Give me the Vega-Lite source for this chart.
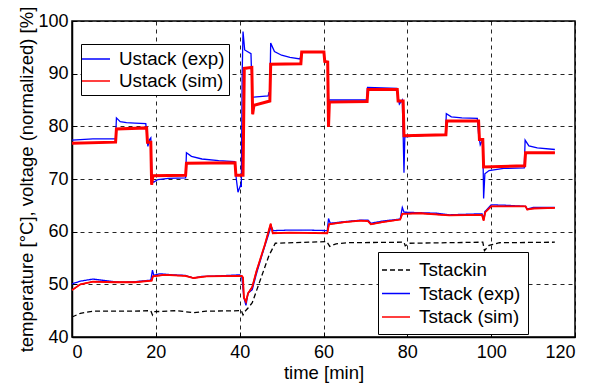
{
  "$schema": "https://vega.github.io/schema/vega-lite/v6.json",
  "width": 503,
  "height": 316,
  "autosize": "none",
  "padding": {"left": 72, "top": 21, "right": 35, "bottom": 46},
  "background": "white",
  "config": {
    "font": "Liberation Sans",
    "view": {"stroke": "black", "strokeWidth": 1.5},
    "axis": {
      "domainColor": "black",
      "domainWidth": 1.5,
      "gridColor": "black",
      "gridDash": [4, 4],
      "gridOpacity": 0.85,
      "gridWidth": 1,
      "tickColor": "black",
      "tickSize": -5,
      "labelColor": "black",
      "labelFont": "Liberation Sans",
      "labelFontSize": 18,
      "titleFont": "Liberation Sans",
      "titleFontSize": 18.5,
      "titleFontWeight": "normal",
      "titleColor": "black"
    },
    "legend": {
      "labelFont": "Liberation Sans",
      "labelFontSize": 18.8,
      "labelColor": "black",
      "strokeColor": "black",
      "fillColor": "white",
      "padding": 5,
      "rowPadding": 2,
      "symbolType": "M-1.4,0H1.4",
      "symbolSize": 400,
      "symbolStrokeWidth": 1.5,
      "labelOffset": 12
    }
  },
  "datasets": {
    "u": [
      {"series": "Ustack (exp)", "t": 0, "v": 77.4},
      {"series": "Ustack (exp)", "t": 5, "v": 77.6},
      {"series": "Ustack (exp)", "t": 10.4, "v": 77.6},
      {"series": "Ustack (exp)", "t": 10.6, "v": 81.6},
      {"series": "Ustack (exp)", "t": 11.5, "v": 80.9},
      {"series": "Ustack (exp)", "t": 13, "v": 80.7},
      {"series": "Ustack (exp)", "t": 15, "v": 80.6},
      {"series": "Ustack (exp)", "t": 17.6, "v": 80.5},
      {"series": "Ustack (exp)", "t": 17.8, "v": 79},
      {"series": "Ustack (exp)", "t": 18.1, "v": 76.2},
      {"series": "Ustack (exp)", "t": 18.5, "v": 77.5},
      {"series": "Ustack (exp)", "t": 18.8, "v": 77.8},
      {"series": "Ustack (exp)", "t": 19.1, "v": 69.6},
      {"series": "Ustack (exp)", "t": 19.5, "v": 69.4},
      {"series": "Ustack (exp)", "t": 20.5, "v": 69.9},
      {"series": "Ustack (exp)", "t": 23, "v": 70.1},
      {"series": "Ustack (exp)", "t": 27.1, "v": 70.2},
      {"series": "Ustack (exp)", "t": 27.3, "v": 75.0},
      {"series": "Ustack (exp)", "t": 28.5, "v": 74.3},
      {"series": "Ustack (exp)", "t": 31, "v": 73.8},
      {"series": "Ustack (exp)", "t": 35, "v": 73.5},
      {"series": "Ustack (exp)", "t": 38.8, "v": 73.3},
      {"series": "Ustack (exp)", "t": 39.2, "v": 70},
      {"series": "Ustack (exp)", "t": 39.6, "v": 67.5},
      {"series": "Ustack (exp)", "t": 40.2, "v": 68.8},
      {"series": "Ustack (exp)", "t": 40.4, "v": 68.5},
      {"series": "Ustack (exp)", "t": 40.6, "v": 90},
      {"series": "Ustack (exp)", "t": 40.8, "v": 98},
      {"series": "Ustack (exp)", "t": 41.2, "v": 94.5},
      {"series": "Ustack (exp)", "t": 42.7, "v": 93.8},
      {"series": "Ustack (exp)", "t": 43.0, "v": 85.5},
      {"series": "Ustack (exp)", "t": 44, "v": 85.6},
      {"series": "Ustack (exp)", "t": 46.8, "v": 85.8},
      {"series": "Ustack (exp)", "t": 47.0, "v": 86.5},
      {"series": "Ustack (exp)", "t": 47.2, "v": 85.9},
      {"series": "Ustack (exp)", "t": 47.4, "v": 95.8},
      {"series": "Ustack (exp)", "t": 48.3, "v": 94.2},
      {"series": "Ustack (exp)", "t": 50, "v": 93.5},
      {"series": "Ustack (exp)", "t": 52, "v": 93.1},
      {"series": "Ustack (exp)", "t": 54.4, "v": 92.8},
      {"series": "Ustack (exp)", "t": 54.8, "v": 94.2},
      {"series": "Ustack (exp)", "t": 60.0, "v": 94.1},
      {"series": "Ustack (exp)", "t": 60.3, "v": 92.3},
      {"series": "Ustack (exp)", "t": 61.0, "v": 92.2},
      {"series": "Ustack (exp)", "t": 61.2, "v": 85.0},
      {"series": "Ustack (exp)", "t": 65, "v": 85.0},
      {"series": "Ustack (exp)", "t": 70.3, "v": 85.0},
      {"series": "Ustack (exp)", "t": 70.5, "v": 87.4},
      {"series": "Ustack (exp)", "t": 77.5, "v": 87.2},
      {"series": "Ustack (exp)", "t": 77.8, "v": 85.5},
      {"series": "Ustack (exp)", "t": 78.1, "v": 84.2},
      {"series": "Ustack (exp)", "t": 78.8, "v": 85},
      {"series": "Ustack (exp)", "t": 79.0, "v": 78.5},
      {"series": "Ustack (exp)", "t": 79.2, "v": 71.2},
      {"series": "Ustack (exp)", "t": 79.4, "v": 78},
      {"series": "Ustack (exp)", "t": 84, "v": 78.3},
      {"series": "Ustack (exp)", "t": 89.1, "v": 78.4},
      {"series": "Ustack (exp)", "t": 89.3, "v": 82.4},
      {"series": "Ustack (exp)", "t": 90.5, "v": 81.8},
      {"series": "Ustack (exp)", "t": 93, "v": 81.6},
      {"series": "Ustack (exp)", "t": 96.7, "v": 81.5},
      {"series": "Ustack (exp)", "t": 97, "v": 78.5},
      {"series": "Ustack (exp)", "t": 97.4, "v": 76.5},
      {"series": "Ustack (exp)", "t": 98, "v": 77.5},
      {"series": "Ustack (exp)", "t": 98.2, "v": 66.3},
      {"series": "Ustack (exp)", "t": 98.5, "v": 71.0},
      {"series": "Ustack (exp)", "t": 99.5, "v": 71.6},
      {"series": "Ustack (exp)", "t": 103, "v": 72.0},
      {"series": "Ustack (exp)", "t": 107.9, "v": 72.1},
      {"series": "Ustack (exp)", "t": 108.1, "v": 77.4},
      {"series": "Ustack (exp)", "t": 109, "v": 76.3},
      {"series": "Ustack (exp)", "t": 111, "v": 75.9},
      {"series": "Ustack (exp)", "t": 115.2, "v": 75.6},
      {"series": "Ustack (sim)", "t": 0, "v": 76.8},
      {"series": "Ustack (sim)", "t": 10.4, "v": 77.0},
      {"series": "Ustack (sim)", "t": 10.6, "v": 79.5},
      {"series": "Ustack (sim)", "t": 17.8, "v": 79.7},
      {"series": "Ustack (sim)", "t": 18.0, "v": 77},
      {"series": "Ustack (sim)", "t": 18.8, "v": 77},
      {"series": "Ustack (sim)", "t": 19.0, "v": 68.9},
      {"series": "Ustack (sim)", "t": 19.3, "v": 70.6},
      {"series": "Ustack (sim)", "t": 27.1, "v": 70.7},
      {"series": "Ustack (sim)", "t": 27.3, "v": 73.0},
      {"series": "Ustack (sim)", "t": 38.9, "v": 73.1},
      {"series": "Ustack (sim)", "t": 39.1, "v": 70.7},
      {"series": "Ustack (sim)", "t": 40.8, "v": 70.7},
      {"series": "Ustack (sim)", "t": 41.1, "v": 91.0},
      {"series": "Ustack (sim)", "t": 42.9, "v": 91.2},
      {"series": "Ustack (sim)", "t": 43.1, "v": 82.3},
      {"series": "Ustack (sim)", "t": 43.4, "v": 84.0},
      {"series": "Ustack (sim)", "t": 47.2, "v": 84.8},
      {"series": "Ustack (sim)", "t": 47.4, "v": 91.8},
      {"series": "Ustack (sim)", "t": 54.6, "v": 91.9},
      {"series": "Ustack (sim)", "t": 54.8, "v": 94.1},
      {"series": "Ustack (sim)", "t": 60.1, "v": 94.1},
      {"series": "Ustack (sim)", "t": 60.3, "v": 92.3},
      {"series": "Ustack (sim)", "t": 61.0, "v": 92.2},
      {"series": "Ustack (sim)", "t": 61.2, "v": 79.9},
      {"series": "Ustack (sim)", "t": 61.4, "v": 84.6},
      {"series": "Ustack (sim)", "t": 70.4, "v": 84.7},
      {"series": "Ustack (sim)", "t": 70.6, "v": 87.0},
      {"series": "Ustack (sim)", "t": 77.6, "v": 87.0},
      {"series": "Ustack (sim)", "t": 77.8, "v": 84.8},
      {"series": "Ustack (sim)", "t": 79.0, "v": 84.8},
      {"series": "Ustack (sim)", "t": 79.2, "v": 78.2},
      {"series": "Ustack (sim)", "t": 89.2, "v": 78.4},
      {"series": "Ustack (sim)", "t": 89.4, "v": 81.0},
      {"series": "Ustack (sim)", "t": 97.0, "v": 81.0},
      {"series": "Ustack (sim)", "t": 97.2, "v": 77.5},
      {"series": "Ustack (sim)", "t": 98.0, "v": 77.5},
      {"series": "Ustack (sim)", "t": 98.2, "v": 72.3},
      {"series": "Ustack (sim)", "t": 108, "v": 72.5},
      {"series": "Ustack (sim)", "t": 108.2, "v": 75.0},
      {"series": "Ustack (sim)", "t": 115.2, "v": 75.0}
    ],
    "t": [
      {"series": "Tstack (exp)", "t": 0, "v": 50.1},
      {"series": "Tstack (exp)", "t": 2, "v": 50.6},
      {"series": "Tstack (exp)", "t": 5, "v": 51.0},
      {"series": "Tstack (exp)", "t": 8, "v": 50.7},
      {"series": "Tstack (exp)", "t": 10, "v": 50.5},
      {"series": "Tstack (exp)", "t": 12, "v": 50.4},
      {"series": "Tstack (exp)", "t": 15, "v": 50.5},
      {"series": "Tstack (exp)", "t": 18.8, "v": 50.8},
      {"series": "Tstack (exp)", "t": 19.2, "v": 52.7},
      {"series": "Tstack (exp)", "t": 19.5, "v": 51.7},
      {"series": "Tstack (exp)", "t": 21, "v": 52.0},
      {"series": "Tstack (exp)", "t": 24, "v": 51.8},
      {"series": "Tstack (exp)", "t": 27, "v": 51.7},
      {"series": "Tstack (exp)", "t": 29, "v": 51.2},
      {"series": "Tstack (exp)", "t": 31, "v": 51.5},
      {"series": "Tstack (exp)", "t": 35, "v": 51.6},
      {"series": "Tstack (exp)", "t": 40, "v": 51.8},
      {"series": "Tstack (exp)", "t": 40.5, "v": 51.5},
      {"series": "Tstack (exp)", "t": 41.0, "v": 47.5},
      {"series": "Tstack (exp)", "t": 41.5, "v": 46.0},
      {"series": "Tstack (exp)", "t": 42, "v": 48.3},
      {"series": "Tstack (exp)", "t": 43, "v": 49.0},
      {"series": "Tstack (exp)", "t": 44, "v": 52},
      {"series": "Tstack (exp)", "t": 45.5, "v": 56},
      {"series": "Tstack (exp)", "t": 47.5, "v": 61.0},
      {"series": "Tstack (exp)", "t": 48, "v": 60.2},
      {"series": "Tstack (exp)", "t": 52, "v": 60.3},
      {"series": "Tstack (exp)", "t": 56, "v": 60.3},
      {"series": "Tstack (exp)", "t": 60.9, "v": 60.2},
      {"series": "Tstack (exp)", "t": 61.2, "v": 62.5},
      {"series": "Tstack (exp)", "t": 61.6, "v": 61.6},
      {"series": "Tstack (exp)", "t": 65, "v": 61.9},
      {"series": "Tstack (exp)", "t": 69, "v": 62.2},
      {"series": "Tstack (exp)", "t": 70.6, "v": 62.2},
      {"series": "Tstack (exp)", "t": 71.3, "v": 61.6},
      {"series": "Tstack (exp)", "t": 74, "v": 62.0},
      {"series": "Tstack (exp)", "t": 78.3, "v": 62.4},
      {"series": "Tstack (exp)", "t": 78.8, "v": 64.6},
      {"series": "Tstack (exp)", "t": 79.2, "v": 63.7},
      {"series": "Tstack (exp)", "t": 83, "v": 63.6},
      {"series": "Tstack (exp)", "t": 87, "v": 63.5},
      {"series": "Tstack (exp)", "t": 90, "v": 63.2},
      {"series": "Tstack (exp)", "t": 97.8, "v": 63.4},
      {"series": "Tstack (exp)", "t": 98.2, "v": 62.5},
      {"series": "Tstack (exp)", "t": 98.5, "v": 63.8},
      {"series": "Tstack (exp)", "t": 100, "v": 65.1},
      {"series": "Tstack (exp)", "t": 104, "v": 65.0},
      {"series": "Tstack (exp)", "t": 108.2, "v": 64.8},
      {"series": "Tstack (exp)", "t": 108.6, "v": 64.3},
      {"series": "Tstack (exp)", "t": 110, "v": 64.6},
      {"series": "Tstack (exp)", "t": 115.2, "v": 64.6},
      {"series": "Tstack (sim)", "t": 0, "v": 48.9},
      {"series": "Tstack (sim)", "t": 2, "v": 50.0},
      {"series": "Tstack (sim)", "t": 5, "v": 50.5},
      {"series": "Tstack (sim)", "t": 10, "v": 50.4},
      {"series": "Tstack (sim)", "t": 15, "v": 50.4},
      {"series": "Tstack (sim)", "t": 19, "v": 50.7},
      {"series": "Tstack (sim)", "t": 19.3, "v": 51.5},
      {"series": "Tstack (sim)", "t": 22, "v": 51.8},
      {"series": "Tstack (sim)", "t": 27, "v": 51.6},
      {"series": "Tstack (sim)", "t": 29, "v": 51.2},
      {"series": "Tstack (sim)", "t": 32, "v": 51.5},
      {"series": "Tstack (sim)", "t": 40.5, "v": 51.6},
      {"series": "Tstack (sim)", "t": 40.8, "v": 51.3},
      {"series": "Tstack (sim)", "t": 41.0, "v": 47.5},
      {"series": "Tstack (sim)", "t": 41.5, "v": 46.7},
      {"series": "Tstack (sim)", "t": 42.0, "v": 48.3},
      {"series": "Tstack (sim)", "t": 43, "v": 49.5},
      {"series": "Tstack (sim)", "t": 44, "v": 52.5},
      {"series": "Tstack (sim)", "t": 46, "v": 57.5},
      {"series": "Tstack (sim)", "t": 47.4, "v": 61.5},
      {"series": "Tstack (sim)", "t": 47.9, "v": 59.7},
      {"series": "Tstack (sim)", "t": 52, "v": 59.8},
      {"series": "Tstack (sim)", "t": 60.9, "v": 59.7},
      {"series": "Tstack (sim)", "t": 61.3, "v": 61.4},
      {"series": "Tstack (sim)", "t": 65, "v": 61.8},
      {"series": "Tstack (sim)", "t": 69, "v": 62.1},
      {"series": "Tstack (sim)", "t": 70.6, "v": 62.0},
      {"series": "Tstack (sim)", "t": 71.3, "v": 61.4},
      {"series": "Tstack (sim)", "t": 74, "v": 61.8},
      {"series": "Tstack (sim)", "t": 78.3, "v": 62.3},
      {"series": "Tstack (sim)", "t": 78.8, "v": 63.4},
      {"series": "Tstack (sim)", "t": 83, "v": 63.5},
      {"series": "Tstack (sim)", "t": 90, "v": 63.1},
      {"series": "Tstack (sim)", "t": 97.8, "v": 63.2},
      {"series": "Tstack (sim)", "t": 98.2, "v": 62.1},
      {"series": "Tstack (sim)", "t": 98.6, "v": 63.7},
      {"series": "Tstack (sim)", "t": 100, "v": 64.8},
      {"series": "Tstack (sim)", "t": 108.2, "v": 64.8},
      {"series": "Tstack (sim)", "t": 108.6, "v": 64.2},
      {"series": "Tstack (sim)", "t": 110, "v": 64.4},
      {"series": "Tstack (sim)", "t": 115.2, "v": 64.5},
      {"series": "Tstackin", "t": 0, "v": 43.8},
      {"series": "Tstackin", "t": 2, "v": 44.5},
      {"series": "Tstackin", "t": 5, "v": 44.9},
      {"series": "Tstackin", "t": 10, "v": 44.9},
      {"series": "Tstackin", "t": 15, "v": 44.9},
      {"series": "Tstackin", "t": 18.8, "v": 45.0},
      {"series": "Tstackin", "t": 19.2, "v": 44.2},
      {"series": "Tstackin", "t": 19.6, "v": 44.8},
      {"series": "Tstackin", "t": 25, "v": 45.0},
      {"series": "Tstackin", "t": 29, "v": 44.6},
      {"series": "Tstackin", "t": 32, "v": 44.9},
      {"series": "Tstackin", "t": 40.4, "v": 45.0},
      {"series": "Tstackin", "t": 40.8, "v": 44.2},
      {"series": "Tstackin", "t": 41.2, "v": 44.8},
      {"series": "Tstackin", "t": 42, "v": 45.5},
      {"series": "Tstackin", "t": 43, "v": 46.5},
      {"series": "Tstackin", "t": 45, "v": 51},
      {"series": "Tstackin", "t": 47, "v": 55.5},
      {"series": "Tstackin", "t": 48.5, "v": 57.8},
      {"series": "Tstackin", "t": 60.8, "v": 58.1},
      {"series": "Tstackin", "t": 61.5, "v": 57.2},
      {"series": "Tstackin", "t": 63, "v": 57.7},
      {"series": "Tstackin", "t": 66, "v": 57.9},
      {"series": "Tstackin", "t": 79.2, "v": 58.0},
      {"series": "Tstackin", "t": 79.5, "v": 57.3},
      {"series": "Tstackin", "t": 80.5, "v": 57.8},
      {"series": "Tstackin", "t": 98.0, "v": 58.0},
      {"series": "Tstackin", "t": 98.4, "v": 56.4},
      {"series": "Tstackin", "t": 99.5, "v": 57.4},
      {"series": "Tstackin", "t": 102, "v": 57.9},
      {"series": "Tstackin", "t": 115.2, "v": 58.0}
    ]
  },
  "encoding": {
    "x": {
      "field": "t",
      "type": "quantitative",
      "scale": {"domain": [0, 120], "nice": false, "zero": false},
      "axis": {"title": "time [min]", "values": [0, 20, 40, 60, 80, 100, 120], "labelPadding": 11, "titlePadding": 2}
    },
    "y": {
      "field": "v",
      "type": "quantitative",
      "scale": {"domain": [40, 100], "nice": false, "zero": false},
      "axis": {"title": "temperature [°C], voltage (normalized) [%]", "values": [40, 50, 60, 70, 80, 90, 100], "labelPadding": 9, "titlePadding": 1}
    }
  },
  "layer": [
    {
      "data": {"name": "u"},
      "mark": {"type": "line", "interpolate": "linear", "strokeWidth": 1.3},
      "encoding": {
        "color": {
          "field": "series",
          "type": "nominal",
          "scale": {"domain": ["Ustack (exp)", "Ustack (sim)"], "range": ["#0000ff", "#ff0000"]},
          "legend": {"title": null, "orient": "none", "legendX": 9, "legendY": 23, "padding": 4, "rowPadding": 1}
        }
      }
    },
    {
      "data": {"name": "u"},
      "transform": [{"filter": "datum.series === 'Ustack (sim)'"}],
      "mark": {"type": "line", "interpolate": "linear", "strokeWidth": 3, "color": "#ff0000"},
      "encoding": {}
    },
    {
      "data": {"name": "t"},
      "mark": {"type": "line", "interpolate": "linear", "strokeWidth": 1.3},
      "encoding": {
        "color": {
          "field": "series",
          "type": "nominal",
          "scale": {"domain": ["Tstackin", "Tstack (exp)", "Tstack (sim)"], "range": ["#000000", "#0000ff", "#ff0000"]},
          "legend": {"title": null, "orient": "none", "legendX": 306, "legendY": 231, "padding": 7, "rowPadding": 2.5}
        },
        "strokeDash": {
          "field": "series",
          "type": "nominal",
          "scale": {"domain": ["Tstackin", "Tstack (exp)", "Tstack (sim)"], "range": [[5, 3], [1, 0], [1, 0]]},
          "legend": {"title": null, "orient": "none", "legendX": 306, "legendY": 231, "padding": 7, "rowPadding": 2.5}
        }
      }
    },
    {
      "data": {"name": "t"},
      "transform": [{"filter": "datum.series === 'Tstack (sim)'"}],
      "mark": {"type": "line", "interpolate": "linear", "strokeWidth": 1.8, "color": "#ff0000"},
      "encoding": {}
    }
  ],
  "resolve": {
    "scale": {"color": "independent", "strokeDash": "independent"},
    "legend": {"color": "independent", "strokeDash": "independent"}
  }
}
